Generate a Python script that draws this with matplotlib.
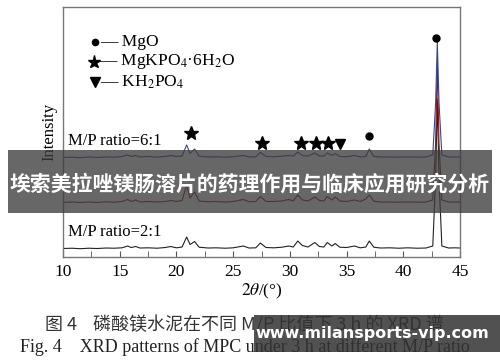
import matplotlib
matplotlib.use("Agg")
import matplotlib.pyplot as plt
from matplotlib.patches import Rectangle

plt.rcParams['font.family'] = ['Liberation Serif', 'DejaVu Serif']
plt.rcParams['mathtext.fontset'] = 'stix'

# 2theta grid shared by the three patterns
two_theta = [10, 10.8, 11.5, 12.3, 13, 13.8, 14.5, 15.2, 15.7, 16.0,
             16.4, 16.8, 17.5, 18.3, 19, 19.5, 20.0, 20.5, 20.9, 21.2,
             21.6, 22.0, 22.8, 23.5, 24.3, 25.0, 25.9, 26.4, 27.0, 27.4,
             27.9, 28.6, 29.3, 29.9, 30.3, 30.7, 31.1, 31.6, 32.2, 32.6,
             33.0, 33.3, 33.7, 34.0, 34.4, 35.0, 35.7, 36.2, 36.7, 37.0,
             37.4, 38.0, 38.8, 39.6, 40.4, 41.2, 42.0, 42.6, 42.85, 43.0,
             43.15, 43.4, 44.0, 44.5, 45]

# intensity above each pattern's own baseline
int_2_1 = [0.5, 0.8, 0.3, 0.8, 0.5, 1.0, 0.8, 1.2, 3.0, 1.5,
           2.5, 1.0, 1.2, 0.8, 1.5, 2.5, 1.2, 2.0, 12, 4.5,
           7.5, 1.8, 1.0, 1.2, 0.8, 1.2, 3.0, 1.0, 1.2, 6.0,
           1.5, 1.2, 1.8, 3.0, 2.0, 8.0, 3.5, 2.0, 6.5, 2.5,
           2.0, 6.5, 3.0, 5.5, 1.8, 1.5, 3.0, 1.2, 2.0, 8.0,
           1.8, 1.0, 1.2, 0.8, 1.2, 0.8, 1.0, 3.0, 70, 150,
           70, 3.0, 1.0, 1.2, 1.0]
int_4_1 = [0.5, 1.0, 0.5, 1.0, 0.5, 1.2, 0.8, 1.5, 3.5, 1.5,
           3.0, 1.0, 1.5, 1.0, 1.5, 2.5, 1.5, 2.5, 18, 5.0,
           11, 2.0, 1.2, 1.5, 1.0, 1.5, 3.5, 1.2, 1.5, 6.5,
           1.5, 1.5, 2.0, 3.5, 2.0, 8.0, 3.0, 2.0, 6.0, 2.5,
           2.0, 6.5, 3.0, 6.0, 2.0, 1.5, 3.0, 1.5, 4.0, 8.0,
           1.8, 1.0, 1.0, 0.8, 1.0, 0.8, 1.0, 3.0, 60, 140,
           60, 3.0, 1.0, 1.0, 1.0]
int_6_1 = [0.5, 0.8, 0.3, 1.0, 0.5, 1.0, 0.8, 1.5, 3.0, 1.5,
           2.5, 1.0, 1.5, 0.8, 1.5, 2.5, 1.5, 2.0, 13, 4.5,
           9, 1.8, 1.0, 1.2, 0.8, 1.2, 2.5, 1.0, 1.2, 5.5,
           1.5, 1.2, 1.8, 2.5, 1.8, 6.0, 2.5, 1.8, 5.0, 2.0,
           1.8, 5.0, 2.5, 4.5, 1.5, 1.2, 2.5, 1.0, 1.5, 9.0,
           1.5, 1.0, 1.0, 0.8, 1.0, 0.8, 1.0, 3.0, 55, 116,
           55, 3.0, 1.0, 1.0, 1.0]

series_labels = ['M/P ratio=2:1', 'M/P ratio=6:1']
series_offsets = [8, 54, 99]

# phase marks: MgO, MgKPO4.6H2O, KH2PO4
mgo_x = [37.0, 42.9]
mgo_y = [121, 219]
struvite_x = [21.3, 27.5, 31.0, 32.3, 33.4]
struvite_y = [124, 114, 114, 114, 114]
kh2po4_x = [34.4]
kh2po4_y = [113]

fig = plt.figure(figsize=(5, 3.62), dpi=100)
ax = fig.add_axes([0.126, 0.29, 0.794, 0.691])

ax.plot(two_theta, [v + series_offsets[0] for v in int_2_1], color='#222222', lw=0.8)
ax.plot(two_theta, [v + series_offsets[1] for v in int_4_1], color='#8b1a1a', lw=0.8)
ax.plot(two_theta, [v + series_offsets[2] for v in int_6_1], color='#3a468f', lw=0.8)

ax.text(10.4, 25, series_labels[0], fontsize=12, va='center')
ax.text(10.4, 116, series_labels[1], fontsize=12, va='center')

ax.plot(mgo_x, mgo_y, 'o', color='black', ms=5)
ax.plot(struvite_x, struvite_y, '*', color='black', ms=10)
ax.plot(kh2po4_x, kh2po4_y, 'v', color='black', ms=7)

# legend drawn by hand like in the figure
ax.plot([12.8], [215], 'o', color='black', ms=4.5)
ax.plot([12.75], [195], '*', color='black', ms=9.5)
ax.plot([12.8], [175], 'v', color='black', ms=7)
ax.text(13.3, 215, '— MgO', fontsize=12.5, va='center')
ax.text(13.2, 195, r'— MgKPO$_4$·6H$_2$O', fontsize=12.5, va='center')
ax.text(13.3, 175, r'— KH$_2$PO$_4$', fontsize=12.5, va='center')

ax.set_xlim(10, 45)
ax.set_ylim(0, 250)
ax.set_xticks([10, 15, 20, 25, 30, 35, 40, 45])
ax.set_xticks([12.5, 17.5, 22.5, 27.5, 32.5, 37.5, 42.5], minor=True)
ax.set_yticks([])
ax.tick_params(axis='x', which='both', direction='in', length=4, color='#555555',
               labelsize=12.5, pad=5)
for s in ax.spines.values():
    s.set_color('#777777')
    s.set_linewidth(1.0)
ax.set_xlabel(r'$2\theta$/(°)', fontsize=12.5, labelpad=1)
ax.set_ylabel('Intensity', fontsize=12, labelpad=4)

fig.text(0.09, 0.102, '图 4    磷酸镁水泥在不同 M/P 比值下 3 h 的 XRD 谱',
         fontsize=13, family=['Noto Sans CJK SC', 'DejaVu Sans'], va='center', color='#333333')
fig.text(0.04, 0.041, 'Fig. 4    XRD patterns of MPC under 3 h at different M/P ratio',
         fontsize=13, va='center', color='#222222')

# overlay banner and watermark
fig.patches.append(Rectangle((0.016, 0.412), 0.968, 0.174, transform=fig.transFigure,
                             facecolor='#3c3c3c', alpha=0.78, zorder=10))
fig.text(0.5, 0.49, '埃索美拉唑镁肠溶片的药理作用与临床应用研究分析', fontsize=15,
         family=['Noto Sans CJK SC', 'DejaVu Sans'], weight='bold', color='white',
         ha='center', va='center', zorder=11)
fig.patches.append(Rectangle((0.508, 0.028), 0.492, 0.102, transform=fig.transFigure,
                             facecolor='#333333', alpha=0.85, zorder=10))
fig.text(0.745, 0.08, 'www.milansports-vip.com', fontsize=11.5,
         family=['DejaVu Sans'], weight='bold', color='white',
         ha='center', va='center', zorder=11)

fig.savefig('out.png', dpi=100)
